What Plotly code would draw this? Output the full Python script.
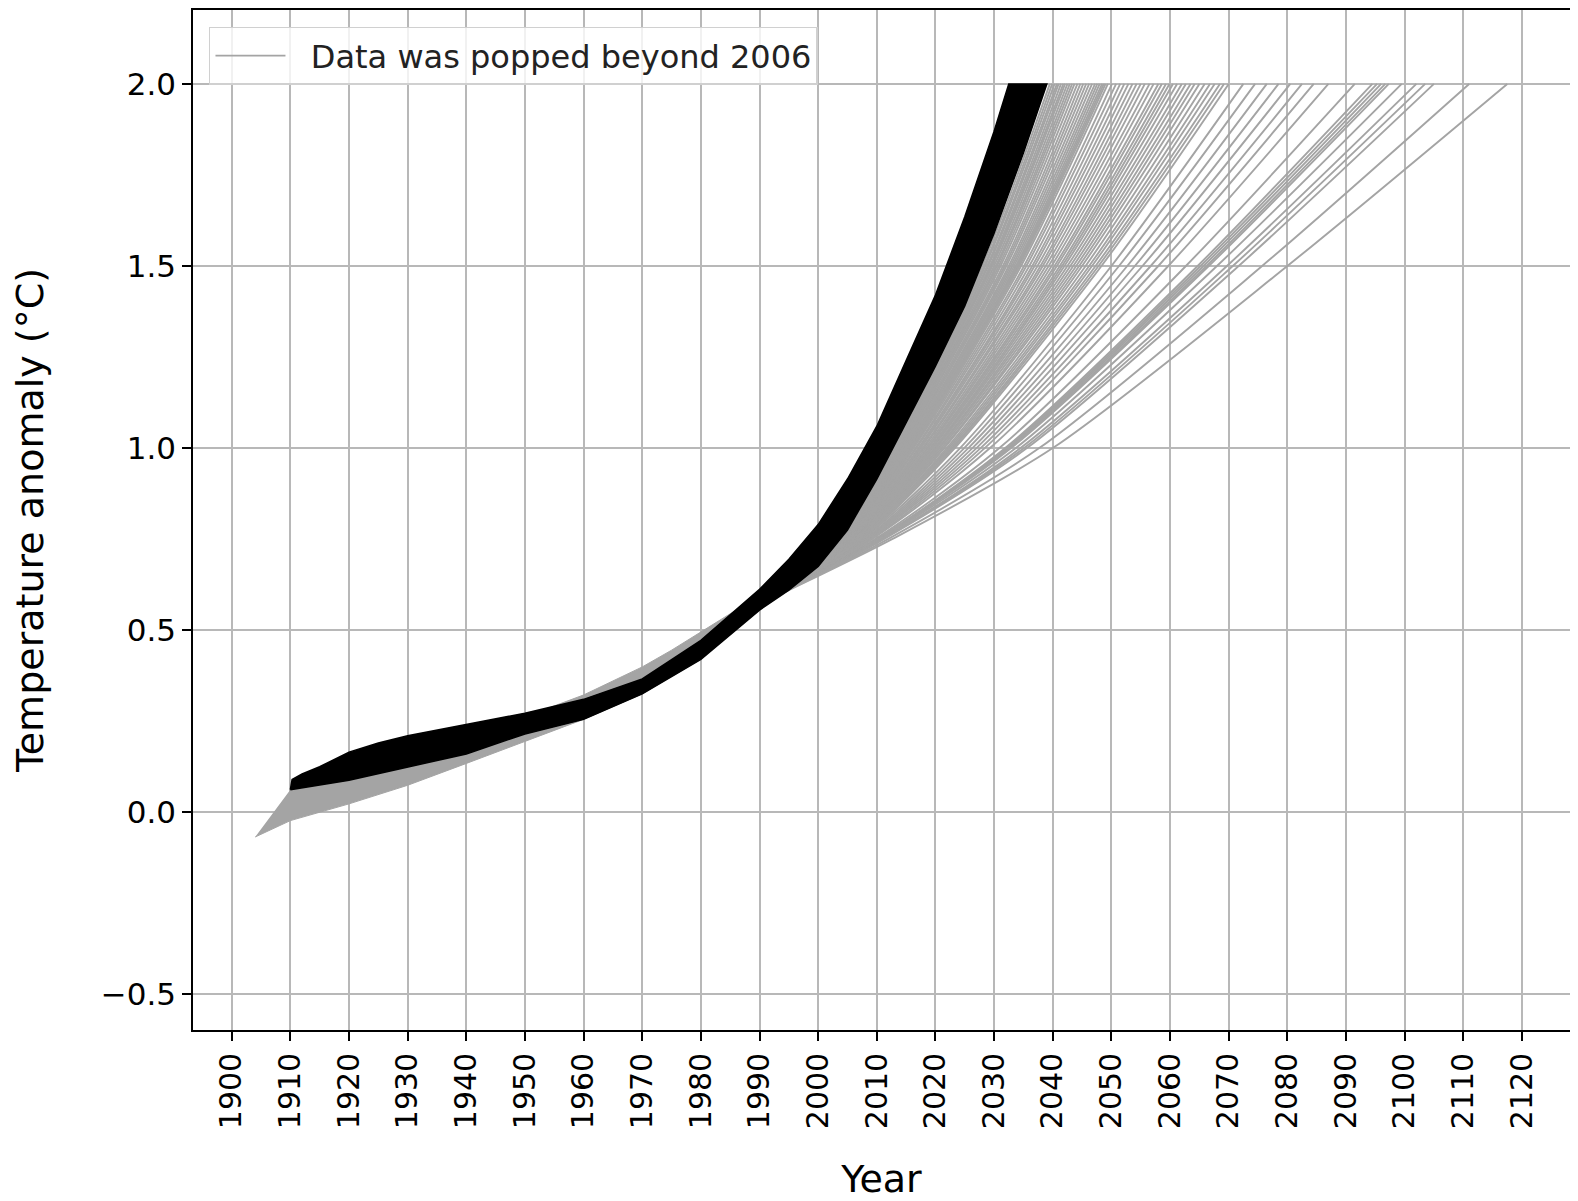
import plotly.graph_objects as go

# ---------------- data ----------------
x_tick_years = [1900, 1910, 1920, 1930, 1940, 1950, 1960, 1970, 1980, 1990, 2000,
                2010, 2020, 2030, 2040, 2050, 2060, 2070, 2080, 2090, 2100, 2110, 2120]
y_tick_vals = [-0.5, 0.0, 0.5, 1.0, 1.5, 2.0]
y_tick_text = ["\u22120.5", "0.0", "0.5", "1.0", "1.5", "2.0"]

# grey region before the curves fan out (lower edge, then upper edge back)
gray_low_years = [1904, 1910, 1920, 1930, 1940, 1950, 1960, 1970, 1980, 1988]
gray_low_vals = [-0.068, -0.023, 0.023, 0.074, 0.134, 0.194, 0.255, 0.325, 0.42, 0.535]
gray_up_years = [1988, 1985, 1980, 1975, 1970, 1965, 1960, 1950, 1940, 1930, 1920, 1910]
gray_up_vals = [0.575, 0.545, 0.495, 0.445, 0.399, 0.36, 0.322, 0.262, 0.225, 0.19, 0.14, 0.062]

# grey fitted curves (data popped beyond 2006): shared pivot, then crossing years
gray_pivot_years = [1986, 1990]
gray_pivot_vals = [0.535, 0.57]
cross_levels = [0.75, 1.0, 1.5, 2.0]
gray_cross_075 = [2004.0, 2004.1, 2004.2, 2004.3, 2004.3, 2004.4, 2004.5, 2004.6, 2004.7, 2004.8,
                  2004.9, 2005.0, 2005.1, 2005.2, 2005.4, 2005.6, 2005.7, 2005.9, 2006.0, 2006.2,
                  2006.3, 2006.5, 2006.6, 2006.8, 2007.0, 2007.2, 2007.4, 2007.6, 2007.9, 2008.1,
                  2008.3, 2008.5, 2008.7, 2009.0, 2009.2, 2009.7, 2010.1, 2010.1, 2010.2, 2010.3,
                  2010.4, 2010.6, 2010.9, 2011.0, 2011.2, 2011.9, 2012.6]
gray_cross_100 = [2012.6, 2012.9, 2013.1, 2013.4, 2013.7, 2013.9, 2014.2, 2014.6, 2015.0, 2015.3,
                  2015.6, 2015.8, 2016.1, 2016.6, 2017.1, 2017.5, 2018.0, 2018.6, 2019.1, 2019.5,
                  2020.0, 2020.5, 2021.0, 2021.5, 2022.2, 2022.8, 2023.3, 2024.2, 2024.9, 2025.6,
                  2026.3, 2027.0, 2027.7, 2028.4, 2029.3, 2030.9, 2031.9, 2032.2, 2032.4, 2032.7,
                  2032.9, 2033.7, 2034.5, 2035.1, 2035.6, 2037.7, 2040.0]
gray_cross_150 = [2028.0, 2028.5, 2029.0, 2029.5, 2030.0, 2030.5, 2031.1, 2031.8, 2032.5, 2033.1,
                  2033.7, 2034.1, 2034.6, 2035.5, 2036.5, 2037.4, 2038.3, 2039.3, 2040.3, 2041.2,
                  2042.0, 2043.0, 2044.0, 2045.0, 2046.2, 2047.3, 2048.3, 2050.0, 2051.3, 2052.7,
                  2054.0, 2055.3, 2056.7, 2058.0, 2059.7, 2062.7, 2064.7, 2065.2, 2065.7, 2066.2,
                  2066.6, 2068.0, 2069.7, 2070.7, 2071.7, 2075.7, 2080.0]
gray_end_years = [2039.5, 2040.3, 2041.0, 2041.8, 2042.5, 2043.3, 2044.2, 2045.2, 2046.2, 2047.2,
                  2048.0, 2048.7, 2049.4, 2050.8, 2052.2, 2053.6, 2055.0, 2056.5, 2058.0, 2059.3,
                  2060.5, 2062.0, 2063.5, 2065.0, 2066.8, 2068.5, 2070.0, 2072.5, 2074.5, 2076.5,
                  2078.5, 2080.5, 2082.5, 2084.5, 2087.0, 2091.5, 2094.5, 2095.3, 2096.0, 2096.7,
                  2097.3, 2099.5, 2102.0, 2103.5, 2105.0, 2111.0, 2117.5]

# further grey curves in the dense part of the fan
gray_extra_075 = [2004.0, 2004.1, 2004.2, 2004.3, 2004.4, 2004.5, 2004.6, 2004.7, 2004.8, 2004.9,
                  2005.0, 2005.0, 2005.2, 2005.3, 2005.5, 2005.6, 2005.8, 2005.9, 2006.1, 2006.2,
                  2006.4, 2006.6, 2006.7, 2006.9, 2007.1, 2007.3]
gray_extra_100 = [2012.7, 2013.0, 2013.3, 2013.5, 2013.8, 2014.1, 2014.4, 2014.8, 2015.1, 2015.4,
                  2015.7, 2015.9, 2016.3, 2016.8, 2017.3, 2017.8, 2018.3, 2018.8, 2019.3, 2019.8,
                  2020.2, 2020.7, 2021.3, 2021.9, 2022.5, 2023.0]
gray_extra_150 = [2028.3, 2028.8, 2029.3, 2029.7, 2030.3, 2030.8, 2031.5, 2032.1, 2032.8, 2033.4,
                  2033.9, 2034.3, 2035.1, 2036.0, 2036.9, 2037.9, 2038.8, 2039.8, 2040.7, 2041.6,
                  2042.5, 2043.5, 2044.5, 2045.6, 2046.7, 2047.8]
gray_extra_end = [2039.9, 2040.7, 2041.4, 2042.1, 2042.9, 2043.7, 2044.7, 2045.7, 2046.7, 2047.6,
                  2048.4, 2049.0, 2050.1, 2051.5, 2052.9, 2054.3, 2055.7, 2057.2, 2058.6, 2059.9,
                  2061.2, 2062.7, 2064.2, 2065.9, 2067.6, 2069.2]

# black band of curves (upper/left edge and lower/right edge)
black_top_years = [1910, 1910.3, 1912, 1915, 1920, 1925, 1930, 1940, 1950, 1960, 1970, 1980,
                   1990, 1995, 2000, 2005, 2010, 2015, 2020, 2025, 2030, 2032.5]
black_top_vals = [0.062, 0.09, 0.105, 0.125, 0.165, 0.19, 0.21, 0.24, 0.272, 0.31, 0.366, 0.472,
                  0.612, 0.695, 0.79, 0.915, 1.06, 1.24, 1.42, 1.635, 1.87, 2.0]
black_bot_years = [1910, 1920, 1930, 1940, 1950, 1960, 1970, 1980, 1990, 1995, 2000, 2005,
                   2010, 2015, 2020, 2025, 2030, 2035, 2039.0]
black_bot_vals = [0.062, 0.088, 0.125, 0.16, 0.215, 0.255, 0.325, 0.42, 0.555, 0.61, 0.675, 0.775,
                  0.915, 1.07, 1.225, 1.39, 1.59, 1.81, 2.0]

GRAY = "#a4a4a4"
FONT = "DejaVu Sans"

fig = go.Figure()

# grey early region
fig.add_trace(go.Scatter(
    x=gray_low_years + gray_up_years, y=gray_low_vals + gray_up_vals,
    mode="lines", fill="toself", fillcolor=GRAY,
    line=dict(color=GRAY, width=1), showlegend=False, hoverinfo="skip"))

# grey curves
curve_sets = [(gray_cross_075, gray_cross_100, gray_cross_150, gray_end_years),
              (gray_extra_075, gray_extra_100, gray_extra_150, gray_extra_end)]
first = True
for c075, c100, c150, ends in curve_sets:
    for i, end in enumerate(ends):
        xs = gray_pivot_years + [c075[i], c100[i], c150[i], end]
        ys = gray_pivot_vals + cross_levels
        fig.add_trace(go.Scatter(
            x=xs, y=ys, mode="lines",
            line=dict(color=GRAY, width=1.9, shape="spline", smoothing=0.8),
            name="\u00a0\u00a0Data was popped beyond 2006", showlegend=first,
            hoverinfo="skip"))
        first = False

# black band
fig.add_trace(go.Scatter(
    x=black_top_years + black_bot_years[::-1], y=black_top_vals + black_bot_vals[::-1],
    mode="lines", fill="toself", fillcolor="black",
    line=dict(color="black", width=1.5), showlegend=False, hoverinfo="skip"))

# the page body has an 8px margin, so the figure is 8px smaller and margins shifted
fig.update_layout(
    width=1570, height=1193,
    margin=dict(l=185, r=8, t=2, b=171),
    paper_bgcolor="white", plot_bgcolor="white",
    font=dict(family=FONT, size=31, color="black"),
    showlegend=True,
    legend=dict(x=0.0116, y=0.9835, xanchor="left", yanchor="top",
                bgcolor="rgba(255,255,255,0.8)", bordercolor="#d0d0d0", borderwidth=1.5,
                font=dict(family=FONT, size=32, color="#222"),
                itemwidth=70, tracegroupgap=0),
)

fig.update_xaxes(
    range=[1893.4, 2128.2], tickmode="array", tickvals=x_tick_years,
    ticktext=[str(v) for v in x_tick_years], tickangle=-90, automargin=False,
    showgrid=True, gridcolor="#b8b8b8", gridwidth=1.6,
    showline=True, linecolor="black", linewidth=1.6, mirror=True,
    ticks="outside", ticklen=9, tickwidth=1.6, tickcolor="black",
    zeroline=False, tickfont=dict(family=FONT, size=30),
    title=dict(text="Year", font=dict(family=FONT, size=38), standoff=42),
)
fig.update_yaxes(
    range=[-0.598, 2.203], tickmode="array", tickvals=y_tick_vals, ticktext=y_tick_text,
    automargin=False,
    showgrid=True, gridcolor="#b8b8b8", gridwidth=1.6,
    showline=True, linecolor="black", linewidth=1.6, mirror=True,
    ticks="outside", ticklen=9, tickwidth=1.6, tickcolor="black",
    zeroline=False, tickfont=dict(family=FONT, size=31),
    title=dict(text="Temperature anomaly (\u00b0C)", font=dict(family=FONT, size=38), standoff=45),
)

fig.write_html("out.html")
